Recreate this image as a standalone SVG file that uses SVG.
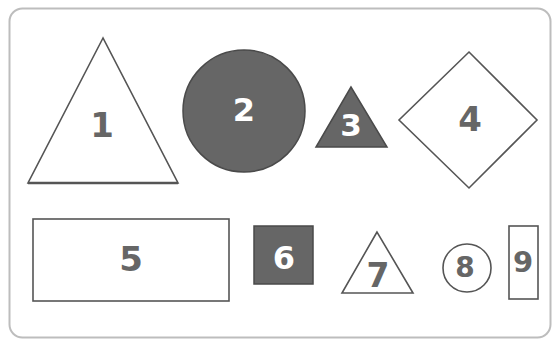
<svg xmlns="http://www.w3.org/2000/svg" width="554" height="339" viewBox="0 0 554 339">
<style>
.frame{fill:#fff;stroke:#bdbdbd;stroke-width:2}
.open{fill:#fff;stroke:#555;stroke-width:1.6}
.solid{fill:#666;stroke:#4a4a4a;stroke-width:1.5}
.lbl{font-family:"DejaVu Sans","Liberation Sans",sans-serif;font-weight:bold;text-anchor:middle;fill:#666}
.inv{fill:#fff}
</style>
<rect width="554" height="339" fill="#fff"/>
<rect class="frame" x="9.5" y="8.5" width="541" height="329" rx="13"/>
<g id="node1">
<polygon class="open" points="103,38 28,183 178,183"/>
<line x1="28" y1="183" x2="178" y2="183" stroke="#555" stroke-width="2.5"/>
<text class="lbl" x="102" y="137" font-size="34">1</text>
</g>
<g id="node2">
<circle class="solid" cx="244" cy="111" r="61"/>
<text class="lbl inv" x="244" y="121" font-size="32">2</text>
</g>
<g id="node3">
<polygon class="solid" points="351,87 316,147 387,147"/>
<text class="lbl inv" x="351" y="136" font-size="31">3</text>
</g>
<g id="node4">
<polygon class="open" points="469,52 537,120 469,188 399,120"/>
<text class="lbl" x="470" y="131" font-size="34">4</text>
</g>
<g id="node5">
<rect class="open" x="33" y="219" width="196" height="82"/>
<text class="lbl" x="131" y="271" font-size="34">5</text>
</g>
<g id="node6">
<rect class="solid" x="254" y="226" width="59" height="58"/>
<text class="lbl inv" x="284" y="269" font-size="32">6</text>
</g>
<g id="node7">
<polygon class="open" points="377,232 342,293 413,293"/>
<text class="lbl" x="378" y="287" font-size="33">7</text>
</g>
<g id="node8">
<circle class="open" cx="467" cy="268" r="24"/>
<text class="lbl" x="465" y="277" font-size="28">8</text>
</g>
<g id="node9">
<rect class="open" x="509" y="226" width="29" height="73"/>
<text class="lbl" x="523" y="272" font-size="29">9</text>
</g>
<g id="connectors"></g>
</svg>
